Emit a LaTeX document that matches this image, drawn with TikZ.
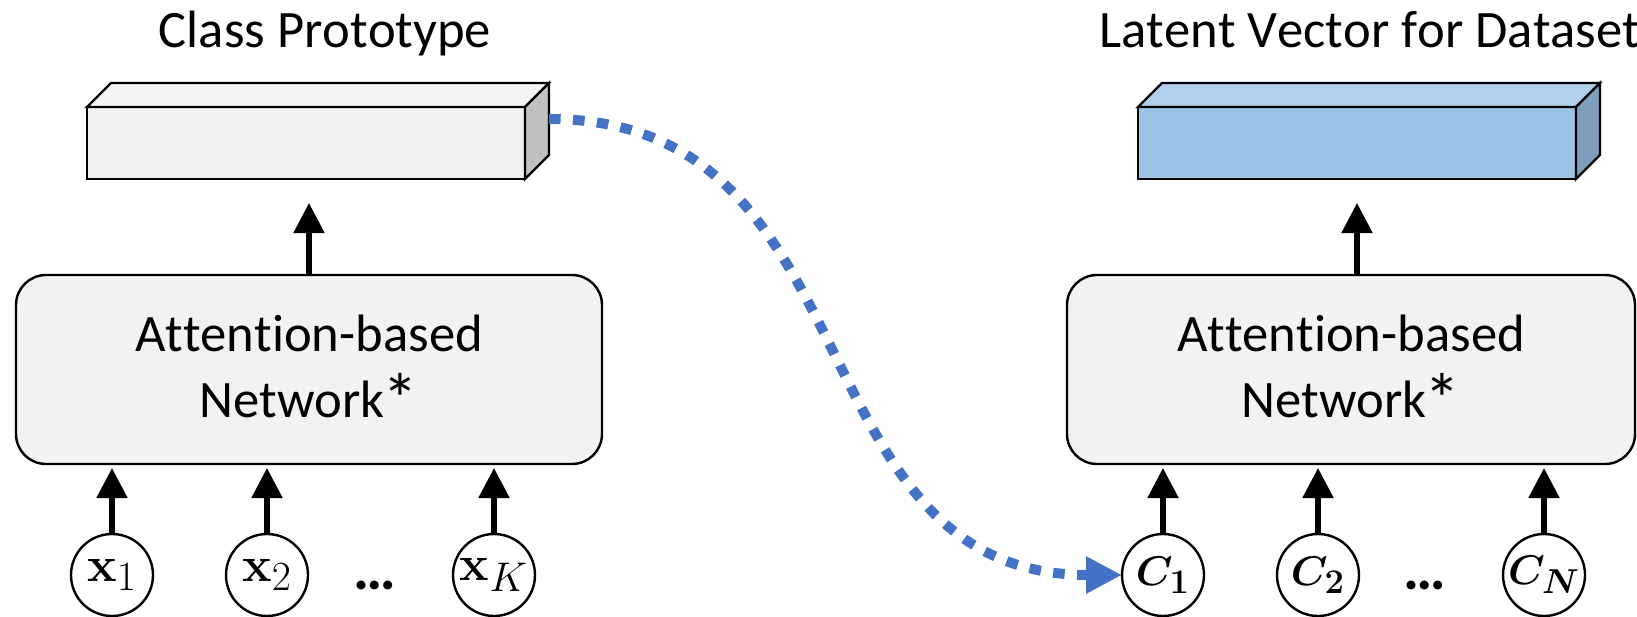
\documentclass[tikz,border=0pt]{standalone}
\usepackage{amsmath,bm}
\usepackage[no-math]{fontspec}
\newfontfamily\calibri[Ligatures=NoCommon,Kerning=Off]{Carlito}
\usetikzlibrary{arrows.meta}

\definecolor{gfront}{HTML}{F2F2F2}
\definecolor{gtop}{HTML}{F5F5F5}
\definecolor{gside}{HTML}{C0C0C0}
\definecolor{bfront}{HTML}{9DC3E6}
\definecolor{btop}{HTML}{B0D0EC}
\definecolor{bside}{HTML}{7E9FBB}
\definecolor{linkblue}{HTML}{4472C4}

% large asterisk set a little lower, as in the network label
\newcommand{\bigast}{{\fontsize{36}{33}\selectfont\kern-1pt\raisebox{-3.5pt}{*}}}
% index set at a larger size than a normal subscript
\newcommand{\bigsub}[1]{\mbox{\fontsize{20.74}{24}\selectfont$#1$}}
\newcommand{\boldsub}[1]{\mbox{\fontsize{17.28}{20}\selectfont$\bm{#1}$}}

\tikzset{
  face/.style={draw=black, line width=1.2pt, inner sep=0pt, outer sep=0pt,
    minimum width=219pt, minimum height=36pt},
  cubeline/.style={draw=black, line width=1.2pt, line join=miter},
  netbox/.style={draw=black, line width=1.2pt, fill=gfront, rounded corners=15pt,
    outer sep=0pt, minimum height=94.5pt, align=center,
    font=\calibri\fontsize{26.3}{33}\selectfont},
  title/.style={inner sep=0pt, font=\calibri\fontsize{26.3}{32}\selectfont},
  inp/.style={circle, draw=black, line width=1.2pt, fill=white, inner sep=0pt,
    outer sep=0pt, minimum size=41pt},
  xlab/.style={font=\fontsize{24.88}{30}\selectfont},
  clab/.style={font=\fontsize{20.74}{24}\selectfont},
  dots/.style={inner sep=0pt, font=\calibri\bfseries\fontsize{30}{34}\selectfont},
  arr/.style={line width=2.6pt, -{Triangle[length=15pt,width=15pt]}},
  link/.style={draw=linkblue, line width=5pt, dash pattern=on 5.8pt off 6.2pt,
    -{Triangle[length=18pt,width=17.5pt,fill=linkblue]}},
}

\begin{document}
\begin{tikzpicture}[x=0.5pt,y=-0.5pt]
\useasboundingbox (0,0) rectangle (1637,616);

% titles
\node[title, anchor=base] (ttlL) at (325,47) {Class Prototype};
\node[title, anchor=base west] (ttlR) at (1099,47) {Latent Vector for Dataset};

% class prototype cuboid
\node[face, fill=gfront] (proto) at (306,143) {};
\filldraw[cubeline, fill=gtop] (proto.north west) -- ++(24,-24) -- ++(438,0)
  -- (proto.north east) -- cycle;
\filldraw[cubeline, fill=gside] (proto.north east) -- ++(24,-24) -- ++(0,72)
  -- (proto.south east) -- cycle;

% latent vector cuboid
\node[face, fill=bfront] (latent) at (1357,143) {};
\filldraw[cubeline, fill=btop] (latent.north west) -- ++(24,-24) -- ++(438,0)
  -- (latent.north east) -- cycle;
\filldraw[cubeline, fill=bside] (latent.north east) -- ++(24,-24) -- ++(0,72)
  -- (latent.south east) -- cycle;

% attention networks
\node[netbox, minimum width=293pt] (netL) at (309,369.5) {Attention-based\\Network\bigast};
\node[netbox, minimum width=284pt] (netR) at (1351,369.5) {Attention-based\\Network\bigast};

% inputs
\node[inp, xlab] (x1) at (112,575) {$\mathbf{x}_{\bigsub{1}}$};
\node[inp, xlab] (x2) at (267,575) {$\mathbf{x}_{\bigsub{2}}$};
\node[inp, xlab] (xK) at (494,575) {$\mathbf{x}_{\bigsub{K}}$};
\node[dots, anchor=base] (dL) at (375,589) {…};

\node[inp, clab] (c1) at (1163,575) {$\bm{C}_{\boldsub{1}}$};
\node[inp, clab] (c2) at (1318,575) {$\bm{C}_{\boldsub{2}}$};
\node[inp, clab] (cN) at (1544,575) {$\bm{C}_{\boldsub{N}}$};
\node[dots, anchor=base] (dR) at (1425,589) {…};

% arrows into the networks
\foreach \n in {x1,x2,xK}
  \draw[arr, shorten >=2pt] (\n.north) -- (\n.north |- netL.south);
\foreach \n in {c1,c2,cN}
  \draw[arr, shorten >=2pt] (\n.north) -- (\n.north |- netR.south);

% arrows out of the networks
\draw[arr, shorten >=12pt] (netL.north) -- (netL.north |- proto.south);
\draw[arr, shorten >=12pt] (latent.south |- netR.north) -- (latent.south);

% prototype fed in as a dataset element
\coordinate (pout) at ([shift={(24,12)}]proto.north east);
\draw[link] (pout) .. controls (880,119) and (790,575) .. (c1.west);
\end{tikzpicture}
\end{document}
